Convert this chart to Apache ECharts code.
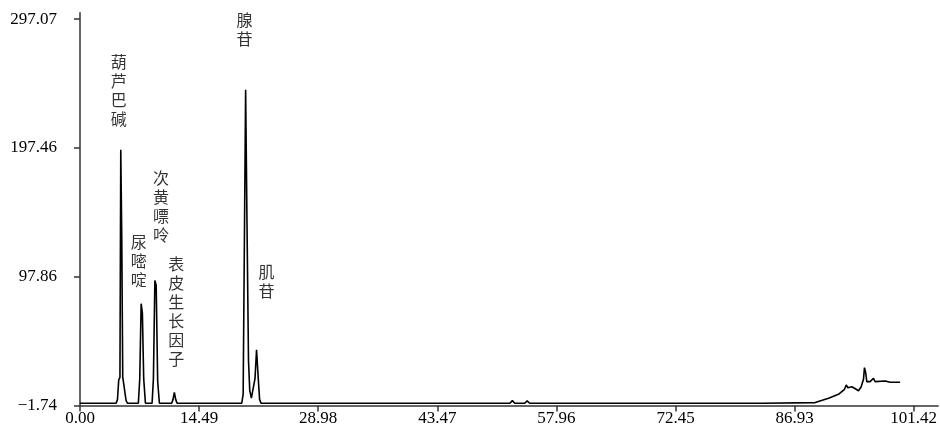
<!DOCTYPE html>
<html>
<head>
<meta charset="utf-8">
<script src="https://cdn.jsdelivr.net/npm/echarts@6/dist/echarts.min.js"></script>
<style>
html,body{margin:0;padding:0;background:#fff;}
#chart{width:940px;height:434px;}
</style>
</head>
<body>
<div id="chart"></div>
<script>
// Tick values
var xTicks = [0.00, 14.49, 28.98, 43.47, 57.96, 72.45, 86.93, 101.42];
var yTicks = [-1.74, 97.86, 197.46, 297.07];

// Chromatogram trace (retention time, min)
var traceTime = [
  0, 4.40, 4.56, 4.71, 4.86, 4.96, 5.08, 5.20, 5.32, 5.47, 5.61, 5.77,
  7.10, 7.27, 7.44, 7.59, 7.75, 7.96,
  8.77, 8.93, 9.11, 9.27, 9.45, 9.66,
  11.15, 11.32, 11.48, 11.64, 11.81,
  19.68, 19.85, 19.95, 20.15, 20.32, 20.50, 20.65, 20.85,
  21.00, 21.29, 21.48, 21.69, 21.85, 22.02,
  52.30, 52.60, 52.90, 54.10, 54.40, 54.70,
  83.10, 83.20,
  89.45, 91.07, 92.28, 93.01, 93.22, 93.42, 93.90, 94.23, 94.72, 95.04,
  95.32, 95.44, 95.60, 95.72, 96.13, 96.53, 96.74, 97.96, 98.57, 99.78
];
// Detector signal
var traceSignal = [
  0, 0, 3, 18, 20, 196, 128, 20, 15, 8, 2, 0,
  0, 19, 77, 69.5, 19, 0,
  0, 19, 95, 91, 17, 0,
  0, 3, 8.3, 3, 0,
  0, 7, 86, 242.5, 137.5, 33, 10, 4,
  4, 19, 41.4, 19, 3, 0,
  0, 2, 0, 0, 1.8, 0,
  0, 0.5,
  0.5, 3.8, 6.9, 10.8, 14.1, 12.0, 12.8, 11.6, 9.7, 12.8,
  18.5, 27.5, 23.2, 16.7, 16.7, 19.3, 16.7, 17.2, 16.2, 16.2
];

// Peak names and apex points
var peakNames = ['葫芦巴碱', '尿嘧啶', '次黄嘌呤', '表皮生长因子', '腺苷', '肌苷'];
var peakTime = [4.96, 7.44, 9.11, 11.48, 20.15, 21.48];
var peakHeight = [196, 77, 95, 8.3, 242.5, 41.4];

var labelOffsets = [[-2, -59], [-2.5, -43], [6, -74], [2, -81], [-1, -60], [10, -68]];

var lineData = traceTime.map(function (t, i) { return [t, traceSignal[i]]; });
var peakData = peakNames.map(function (n, i) {
  return {
    value: [peakTime[i], peakHeight[i]],
    name: n,
    label: { offset: labelOffsets[i] }
  };
});

var axisColor = '#333';
var numFont = '"Liberation Serif", "Times New Roman", serif';
var cjkFont = '"Noto Sans CJK SC", sans-serif';

function fmt(v) {
  var s = v.toFixed(2);
  return s.charAt(0) === '-' ? '\u2212' + s.slice(1) : s;
}

var chart = echarts.init(document.getElementById('chart'), null, { renderer: 'canvas' });
chart.setOption({
  backgroundColor: '#fff',
  animation: false,
  grid: { left: 80, right: 0, top: 12.7, bottom: 28.5, containLabel: false },
  xAxis: {
    type: 'value',
    min: 0,
    max: 104.4,
    splitLine: { show: false },
    axisLine: { show: true, onZero: false, lineStyle: { color: axisColor, width: 1.5 } },
    axisTick: { show: true, length: 6, customValues: xTicks, lineStyle: { color: axisColor, width: 1.5 } },
    axisLabel: {
      customValues: xTicks,
      margin: 5,
      color: '#000',
      fontFamily: numFont,
      fontSize: 17,
      formatter: fmt
    }
  },
  yAxis: {
    type: 'value',
    min: -1.74,
    max: 302,
    splitLine: { show: false },
    axisLine: { show: true, onZero: false, lineStyle: { color: axisColor, width: 1.5 } },
    axisTick: { show: true, length: 6, customValues: yTicks, lineStyle: { color: axisColor, width: 1.5 } },
    axisLabel: {
      customValues: yTicks,
      margin: 23,
      color: '#000',
      fontFamily: numFont,
      fontSize: 17,
      formatter: fmt
    }
  },
  series: [
    {
      type: 'line',
      data: lineData,
      showSymbol: false,
      symbol: 'none',
      smooth: false,
      lineStyle: { color: '#000', width: 1.6 },
      z: 3
    },
    {
      type: 'scatter',
      data: peakData,
      symbolSize: 0,
      silent: true,
      label: {
        show: true,
        position: 'inside',
        color: '#000',
        fontFamily: cjkFont,
        fontSize: 16,
        lineHeight: 19,
        align: 'center',
        verticalAlign: 'middle',
        formatter: function (p) { return p.name.split('').join('\n'); }
      },
      z: 4
    }
  ]
});
</script>
</body>
</html>
